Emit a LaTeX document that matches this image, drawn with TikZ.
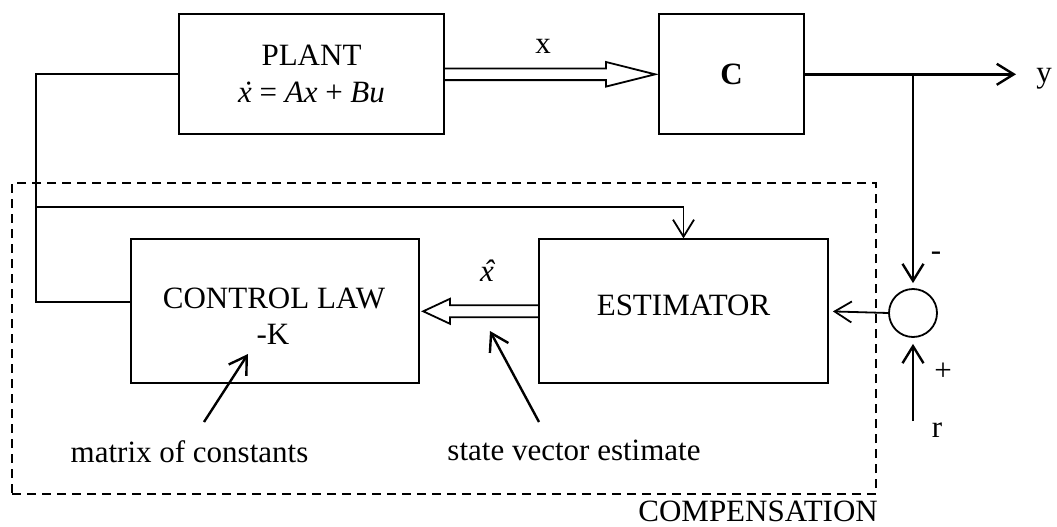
\documentclass[tikz,border=0pt]{standalone}
\usepackage{fontspec}
\setmainfont{Liberation Serif}
\usetikzlibrary{arrows.meta,calc}
\newcommand{\accx}[1]{{\itshape\ooalign{x\cr\hidewidth\kern0.12em\char"#1\hidewidth\cr}}}
\begin{document}
\begin{tikzpicture}[x=1pt,y=-1pt,
  box/.style={draw, line width=1.8pt, inner sep=0pt, rectangle},
  txt/.style={font=\fontsize{31pt}{37pt}\selectfont, inner sep=0pt},
  conn/.style={line width=1.8pt},
  thickconn/.style={line width=2.4pt},
  tip/.style={-{Straight Barb[length=17pt,width=21pt]}},
  dbl/.style={line width=1.8pt, line join=miter},
  compbox/.style={draw, line width=1.5pt, dash pattern=on 9pt off 6pt, inner sep=0pt, rectangle}
]
\useasboundingbox (0,0) rectangle (1057,527);

% blocks
\node[box, txt, align=center, minimum width=265pt, minimum height=120pt] (plant) at (311.5,74.3)
  {PLANT\\ \accx{02D9} = \textit{Ax} + \textit{Bu}};
\node[box, txt, minimum width=145pt, minimum height=120pt] (cbox) at (731.5,74.3) {\bfseries C};
\node[box, minimum width=289pt, minimum height=144pt] (est) at (683.5,311.3) {};
\node[txt, anchor=base] (esttxt) at (683.5,315) {ESTIMATOR};
\node[box, minimum width=288pt, minimum height=144pt] (cl) at (275.3,311.3) {};
\node[txt, anchor=base] (cltxt) at (274,308.6) {CONTROL LAW};
\node[txt, anchor=base] (ktxt) at (273,344) {-K};
\node[circle, draw, line width=1.8pt, minimum size=48pt, inner sep=0pt] (sum) at (913,313) {};

% compensation region
\node[compbox, minimum width=864pt, minimum height=311pt] (comp) at (444,338.5) {};
\node[txt, anchor=base east] (comptxt) at (878,521.7) {COMPENSATION};

% feedback from control law to plant
\coordinate (lt) at (36,74.3);
\coordinate (lb) at (36,302);
\coordinate (br) at (36,207);
\draw[conn] (plant.west) -- (lt) -- (lb) -- (cl.west |- lb);
\draw[conn, tip] (br) -| (est.north);

% double arrow plant -> C
\coordinate (h1) at (606,74.3);
\draw[dbl] ($(plant.east)+(0,-5.8)$) -- ($(h1)+(0,-5.8)$) -- ($(h1)+(0,-12.3)$)
  -- ($(cbox.west)+(-3,0)$) -- ($(h1)+(0,12.3)$) -- ($(h1)+(0,5.8)$) -- ($(plant.east)+(0,5.8)$);
\node[txt, anchor=base] (xlab) at (543,54) {x};

% double arrow estimator -> control law
\coordinate (h2) at (450,311.3);
\draw[dbl] ($(est.west)+(0,-6)$) -- ($(h2)+(0,-6)$) -- ($(h2)+(0,-12.5)$)
  -- ($(cl.east)+(3,0)$) -- ($(h2)+(0,12.5)$) -- ($(h2)+(0,6)$) -- ($(est.west)+(0,6)$);
\node[txt, anchor=base] (xhat) at (487,281) {\accx{02C6}};

% output and summing junction
\coordinate (yend) at (1016,74.3);
\coordinate (ybr) at (sum.north |- cbox.east);
\draw[thickconn, tip] (cbox.east) -- (yend);
\node[txt, anchor=base] (ylab) at (1044,82) {y};
\draw[thickconn, tip, shorten >=5pt] (ybr) -- (sum.north);
\node[txt] (minus) at (936,256) {-};
\coordinate (rin) at (913,421);
\draw[thickconn, tip, shorten >=6pt] (rin) -- (sum.south);
\node[txt] (plus) at (943,372) {+};
\node[txt, anchor=base] (rlab) at (937,437) {r};
\draw[conn, tip, shorten >=4pt] (sum.west) -- (est.east);

% annotations
\coordinate (m1) at (204,422);
\coordinate (m2) at (248,354);
\draw[thickconn, tip] (m1) -- (m2);
\node[txt, anchor=base] (mtxt) at (189.5,462.7) {matrix of constants};
\coordinate (s1) at (539,422);
\coordinate (s2) at (490,331);
\draw[thickconn, tip] (s1) -- (s2);
\node[txt, anchor=base] (stxt) at (574,460) {state vector estimate};
\end{tikzpicture}
\end{document}
